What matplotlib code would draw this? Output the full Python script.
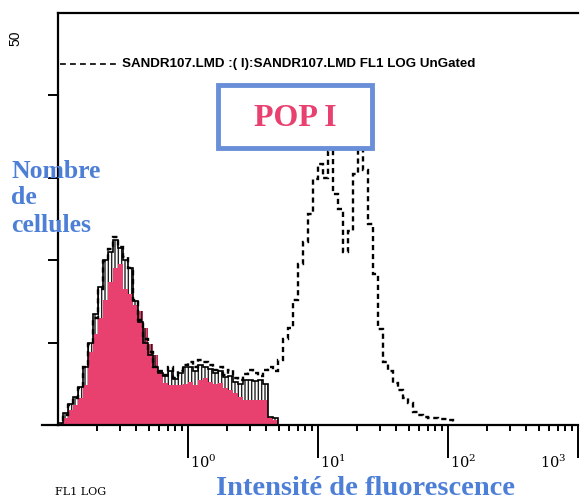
import numpy as np
import matplotlib
matplotlib.use("Agg")
import matplotlib.pyplot as plt
from matplotlib.patches import Rectangle
from matplotlib.lines import Line2D

# ---------------- data ----------------
bins_per_decade = 26          # channel resolution on the log axis
x_start_decade = -1           # axis starts at 10^-1
# ungated histogram (dashed), counts per channel
ungated = [0.0, 1.2, 2.4, 3.3, 4.5, 7.0, 9.8, 13.0, 16.5, 19.9,
           21.3, 22.8, 21.6, 20.4, 19.1, 15.2, 12.8, 10.4, 8.9, 7.0,
           6.5, 6.1, 7.0, 5.7, 6.5, 7.3, 7.7, 7.0, 7.9, 7.7,
           7.3, 6.7, 7.0, 6.1, 6.7, 5.7, 5.5, 6.2, 6.7, 6.3,
           6.0, 6.7, 7.0, 6.5, 7.9, 10.4, 11.8, 15.2, 19.5, 22.2,
           25.6, 29.9, 31.7, 30.0, 33.2, 28.0, 26.2, 21.0, 23.5, 30.5,
           33.5, 31.0, 24.4, 18.3, 11.6, 7.7, 6.5, 5.1, 4.3, 3.3,
           2.7, 1.6, 1.2, 1.0, 0.9, 0.9, 0.7, 0.7, 0.6]
# gated population (pink fill)
gated = [0.0, 0.9, 1.8, 2.4, 3.3, 4.9, 8.9, 11.0, 13.0, 15.2,
         17.4, 19.1, 19.5, 16.5, 15.9, 14.6, 13.8, 11.8, 9.8, 8.5,
         6.5, 5.1, 4.9, 4.9, 4.8, 5.0, 5.2, 4.9, 5.5, 5.7,
         5.2, 5.0, 5.1, 4.5, 4.3, 3.9, 3.4, 3.0, 3.0, 3.0,
         3.0, 3.0, 0.8, 0.6]
# spiky maxima of the gated histogram (black outline)
gated_peak = [0.3, 1.5, 2.6, 3.4, 4.6, 7.0, 10.0, 13.5, 16.8, 20.0,
              21.0, 22.5, 21.5, 20.0, 19.0, 15.0, 12.5, 10.0, 8.5, 7.0,
              6.3, 6.0, 6.5, 5.6, 6.3, 7.0, 7.0, 6.5, 7.3, 7.0,
              6.8, 6.3, 6.5, 5.8, 6.0, 5.2, 5.0, 5.5, 5.5, 5.3,
              5.5, 5.0, 1.0, 0.8]
y_ticks = [10, 20, 30, 40]
y_max = 50
x_decades = [0, 1, 2, 3]
legend_text = "SANDR107.LMD :( I):SANDR107.LMD FL1 LOG UnGated"
y_title_lines = ["Nombre", "de", "cellules"]

# ---------------- figure ----------------
pink = "#e8406f"
blue = "#4d7fd6"
fig = plt.figure(figsize=(5.8, 5.04), dpi=100)
ax = fig.add_axes([58/580, 1-425/504, 520/580, 412/504])

def edges_for(n):
    return 10.0 ** (x_start_decade + np.arange(n + 1) / bins_per_decade)

eu = edges_for(len(ungated))
eg = edges_for(len(gated))

ax.stairs(gated, eg, fill=True, color=pink, lw=0, zorder=2)
ax.stairs(gated_peak, eg, baseline=gated, fill=True, facecolor="none",
          edgecolor="#222222", hatch="|||||", lw=0, zorder=3)
ax.stairs(gated_peak, eg, color="k", lw=1.2, zorder=4)
ax.stairs(ungated, eu, color="k", lw=1.7, ls=(0, (2.2, 1.6)), zorder=5)

ax.set_xscale("log")
ax.set_xlim(10.0 ** x_start_decade, 10.0 ** 3)
ax.set_ylim(0, y_max)

ax.spines["right"].set_visible(False)
for s in ["left", "bottom", "top"]:
    ax.spines[s].set_linewidth(1.6)

ax.set_yticks(y_ticks)
ax.set_yticklabels([])
ax.tick_params(axis="y", direction="out", length=7, width=1.4)
ax.set_xticks([10.0 ** d for d in x_decades])
ax.set_xticklabels([])
ax.tick_params(axis="x", which="major", direction="out", length=24, width=1.4)
ax.tick_params(axis="x", which="minor", direction="out", length=4.5, width=1.4)
ax.xaxis.set_minor_locator(matplotlib.ticker.LogLocator(base=10, subs=np.arange(2, 10)))
ax.xaxis.set_minor_formatter(matplotlib.ticker.NullFormatter())

# bottom line extends left of the y axis
ax.add_line(Line2D([-0.031, 0], [0, 0], transform=ax.transAxes, color="k",
                   lw=1.6, clip_on=False))

plt.rcParams["mathtext.fontset"] = "dejavuserif"
trans = matplotlib.transforms.blended_transform_factory(ax.transData, ax.transAxes)
for d in x_decades:
    if d < 3:
        ax.text(10.0 ** d * 1.03, -0.09, r"$\mathdefault{10^{%d}}$" % d,
                transform=trans, ha="left", va="center", fontsize=10.5,
                family="DejaVu Serif")
    else:
        ax.text(10.0 ** d * 0.82, -0.09, r"$\mathdefault{10^{%d}}$" % d,
                transform=trans, ha="right", va="center", fontsize=10.5,
                family="DejaVu Serif")

# "50" label at top of y axis
fig.text(15/580, 1-38/504, str(y_max), rotation=90, ha="center", va="center",
         fontsize=10, family="Liberation Sans")

# legend-like line + text
ax.plot([0.004, 0.115], [0.876, 0.876], transform=ax.transAxes, color="k",
        lw=1.2, ls=(0, (3.5, 2.5)), clip_on=False)
ax.text(0.123, 0.876, legend_text, transform=ax.transAxes, ha="left",
        va="center", fontsize=9.6, family="Liberation Sans", weight="bold")

# POP I box
fig.patches.append(Rectangle((218/580, 1-148/504), 154/580, 63/504,
                             transform=fig.transFigure, fill=False,
                             edgecolor="#6a8fd9", lw=3.5))
fig.text(295/580, 1-119/504, "POP I", ha="center", va="center", fontsize=23,
         color=pink, weight="bold", family="Liberation Serif")

# axis titles
for line, yb in zip(y_title_lines, [178, 204, 232]):
    fig.text(11/580, 1-yb/504, line, ha="left", va="baseline",
             fontsize=18.5, color=blue, weight="bold", family="Liberation Serif")
fig.text(365/580, 1-495/504, "Intensité de fluorescence", ha="center",
         va="baseline", fontsize=20.5, color=blue, weight="bold",
         family="Liberation Serif")
fig.text(55/580, 1-492/504, "FL1 LOG", ha="left", va="center", fontsize=8,
         family="DejaVu Serif")

fig.savefig("out.png", dpi=100)
